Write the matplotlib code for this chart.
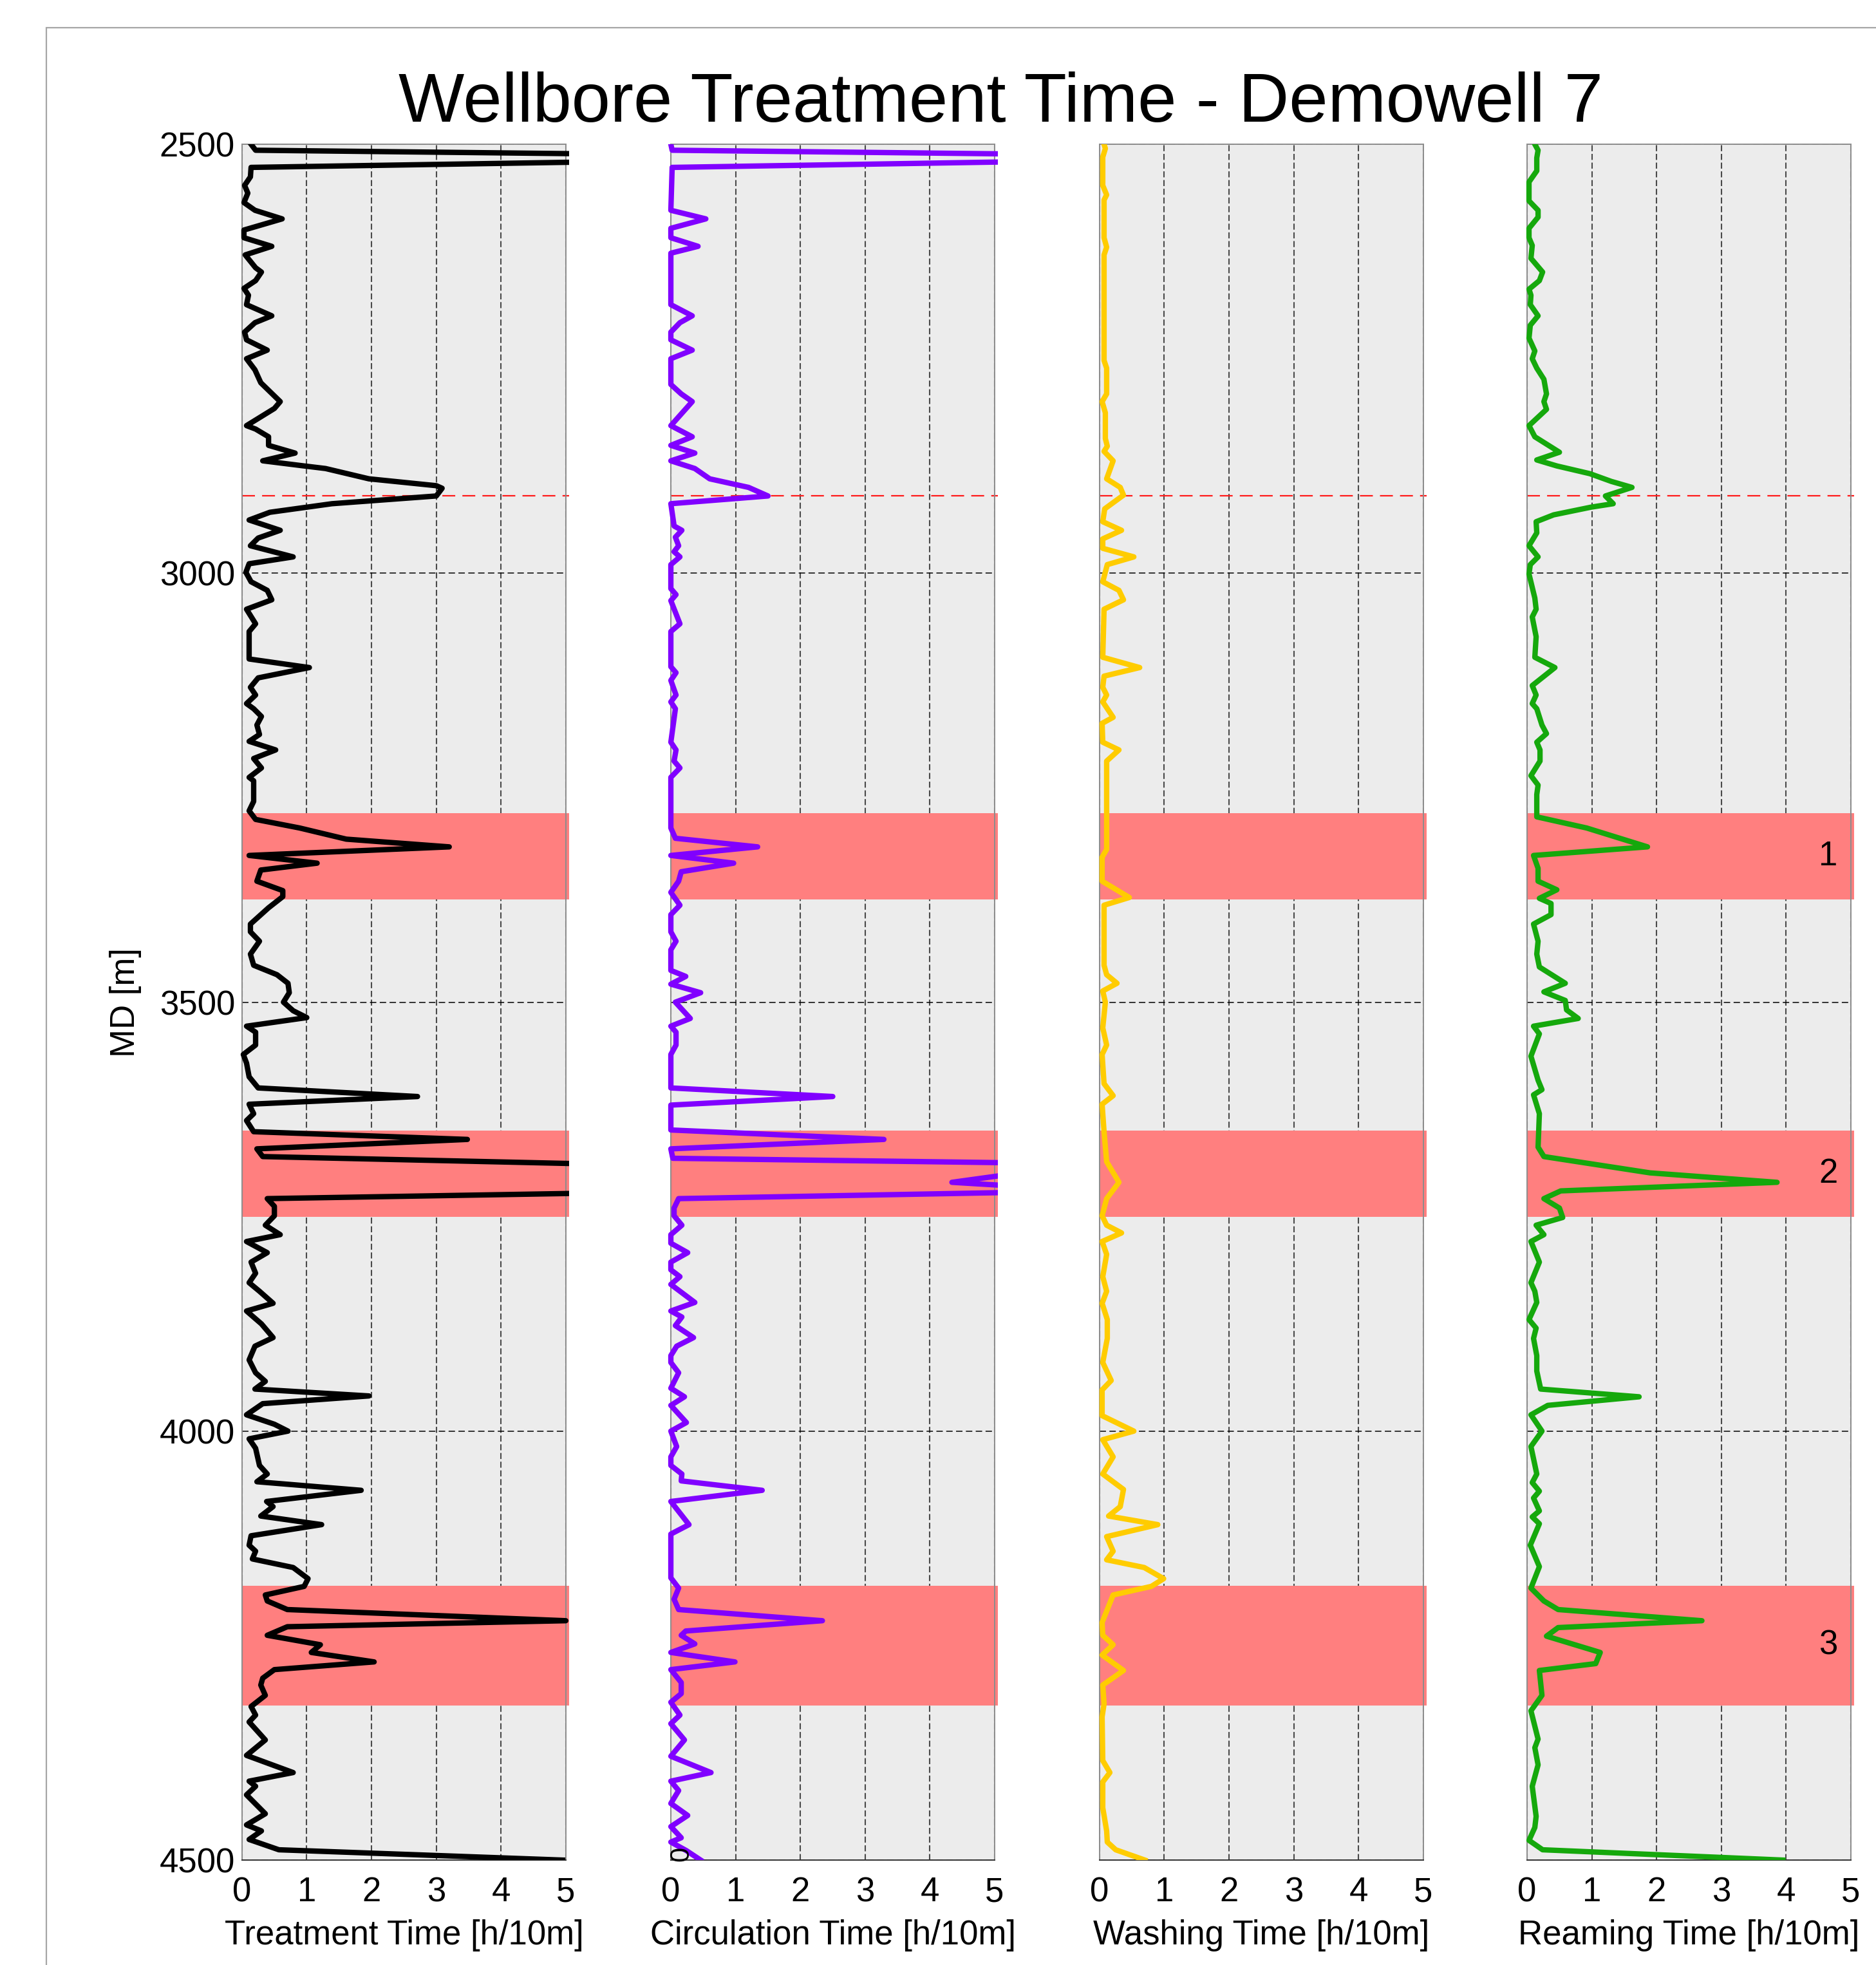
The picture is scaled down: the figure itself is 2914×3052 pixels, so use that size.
import matplotlib
matplotlib.use("Agg")
import matplotlib.pyplot as plt
from matplotlib.patches import Rectangle
from matplotlib.transforms import Bbox, TransformedBbox

# Depth samples are not evenly spaced, so every track keeps its own MD list.

treat_md = [
    2500, 2507, 2515, 2527, 2538, 2548, 2557, 2568, 2577, 2587, 2600, 2609, 2619, 2629,
    2644, 2649, 2659, 2668, 2676, 2687, 2700, 2708, 2719, 2728, 2740, 2750, 2763, 2778,
    2800, 2808, 2828, 2832, 2841, 2851, 2860, 2869, 2875, 2878, 2890, 2898, 2901, 2910,
    2919, 2929, 2938, 2950, 2959, 2968, 2981, 2989, 2999, 3010, 3020, 3031, 3042, 3059,
    3068, 3100, 3110, 3122, 3133, 3142, 3152, 3158, 3167, 3177, 3188, 3196, 3206, 3216,
    3227, 3238, 3242, 3266, 3277, 3287, 3297, 3310, 3319, 3329, 3338, 3346, 3359, 3370,
    3377, 3390, 3409, 3418, 3429, 3444, 3457, 3468, 3478, 3489, 3500, 3510, 3518, 3528,
    3535, 3550, 3561, 3571, 3587, 3600, 3610, 3619, 3630, 3638, 3651, 3660, 3671, 3680,
    3690, 3700, 3710, 3720, 3729, 3738, 3749, 3760, 3771, 3779, 3792, 3803, 3816, 3827,
    3837, 3851, 3860, 3875, 3891, 3901, 3917, 3932, 3942, 3951, 3959, 3968, 3981, 3992,
    4000, 4009, 4020, 4040, 4050, 4059, 4069, 4082, 4088, 4099, 4109, 4122, 4133, 4140,
    4149, 4159, 4172, 4181, 4191, 4198, 4208, 4221, 4228, 4238, 4249, 4258, 4269, 4278,
    4288, 4296, 4308, 4321, 4331, 4339, 4360, 4378, 4398, 4408, 4414, 4424, 4446, 4459,
    4466, 4476, 4488, 4500,
]
treat_h = [
    0.14, 0.21, 10.0, 0.14, 0.13, 0.04, 0.09, 0.03, 0.20, 0.62, 0.03, 0.03, 0.46, 0.05,
    0.21, 0.30, 0.21, 0.03, 0.10, 0.07, 0.46, 0.20, 0.04, 0.07, 0.39, 0.07, 0.20, 0.29,
    0.59, 0.50, 0.07, 0.21, 0.41, 0.41, 0.82, 0.32, 0.96, 1.29, 1.96, 3.00, 3.09, 3.00,
    1.39, 0.43, 0.11, 0.59, 0.25, 0.13, 0.79, 0.11, 0.06, 0.14, 0.39, 0.46, 0.07, 0.21,
    0.11, 0.11, 1.04, 0.25, 0.13, 0.21, 0.07, 0.18, 0.30, 0.23, 0.27, 0.11, 0.52, 0.18,
    0.30, 0.11, 0.18, 0.18, 0.11, 0.21, 0.89, 1.61, 3.20, 0.11, 1.16, 0.29, 0.23, 0.63,
    0.63, 0.41, 0.13, 0.13, 0.27, 0.13, 0.18, 0.54, 0.71, 0.73, 0.64, 0.79, 1.00, 0.07,
    0.21, 0.21, 0.02, 0.07, 0.11, 0.25, 2.71, 0.11, 0.18, 0.07, 0.18, 3.48, 0.23, 0.32,
    6.20, 9.50, 8.50, 7.40, 0.39, 0.50, 0.50, 0.36, 0.59, 0.07, 0.39, 0.14, 0.21, 0.11,
    0.27, 0.48, 0.07, 0.30, 0.48, 0.20, 0.11, 0.21, 0.36, 0.20, 1.96, 0.32, 0.07, 0.50,
    0.71, 0.11, 0.21, 0.27, 0.39, 0.23, 1.84, 0.38, 0.48, 0.29, 1.23, 0.14, 0.11, 0.21,
    0.16, 0.79, 1.02, 0.96, 0.36, 0.39, 0.70, 5.00, 0.70, 0.39, 1.21, 1.07, 2.04, 0.50,
    0.32, 0.29, 0.36, 0.14, 0.21, 0.11, 0.36, 0.07, 0.79, 0.11, 0.21, 0.07, 0.36, 0.07,
    0.30, 0.11, 0.57, 4.95,
]

circ_md = [
    2500, 2507, 2515, 2527, 2577, 2587, 2598, 2609, 2619, 2627, 2687, 2700, 2708, 2719,
    2728, 2740, 2750, 2780, 2791, 2800, 2828, 2841, 2851, 2860, 2869, 2878, 2890, 2900,
    2910, 2919, 2945, 2950, 2958, 2968, 2975, 2981, 2990, 3018, 3025, 3032, 3059, 3068,
    3109, 3116, 3125, 3142, 3150, 3158, 3197, 3206, 3219, 3227, 3238, 3297, 3309, 3319,
    3329, 3338, 3348, 3359, 3372, 3387, 3398, 3418, 3429, 3439, 3463, 3470, 3479, 3489,
    3500, 3519, 3528, 3535, 3550, 3561, 3600, 3610, 3620, 3649, 3660, 3671, 3682, 3690,
    3700, 3710, 3720, 3729, 3740, 3749, 3760, 3771, 3781, 3792, 3803, 3812, 3820, 3829,
    3850, 3860, 3867, 3877, 3891, 3901, 3912, 3920, 3932, 3950, 3960, 3970, 3990, 4000,
    4018, 4030, 4040, 4050, 4058, 4069, 4082, 4109, 4120, 4171, 4183, 4196, 4208, 4221,
    4233, 4238, 4248, 4258, 4269, 4278, 4293, 4306, 4316, 4331, 4341, 4360, 4379, 4398,
    4408, 4419, 4434, 4448, 4461, 4474, 4479, 4489, 4500,
]
circ_h = [
    0.00, 0.02, 9.70, 0.02, 0.00, 0.54, 0.00, 0.00, 0.42, 0.00, 0.00, 0.33, 0.14, 0.00,
    0.00, 0.33, 0.00, 0.00, 0.16, 0.33, 0.00, 0.33, 0.00, 0.37, 0.00, 0.37, 0.60, 1.20,
    1.50, 0.00, 0.05, 0.17, 0.07, 0.12, 0.05, 0.14, 0.00, 0.00, 0.08, 0.00, 0.14, 0.00,
    0.00, 0.08, 0.00, 0.08, 0.00, 0.07, 0.00, 0.08, 0.05, 0.14, 0.00, 0.00, 0.07, 1.34,
    0.00, 0.97, 0.16, 0.12, 0.00, 0.14, 0.00, 0.00, 0.08, 0.00, 0.00, 0.23, 0.00, 0.46,
    0.07, 0.30, 0.00, 0.08, 0.08, 0.00, 0.00, 2.50, 0.00, 0.00, 3.29, 0.00, 0.03, 8.00,
    5.30, 4.34, 6.54, 0.12, 0.05, 0.05, 0.17, 0.00, 0.00, 0.26, 0.00, 0.00, 0.14, 0.00,
    0.37, 0.00, 0.17, 0.07, 0.35, 0.09, 0.00, 0.00, 0.12, 0.00, 0.21, 0.00, 0.24, 0.00,
    0.09, 0.00, 0.00, 0.17, 0.16, 1.41, 0.00, 0.28, 0.00, 0.00, 0.12, 0.05, 0.12, 2.34,
    0.23, 0.16, 0.37, 0.00, 0.99, 0.00, 0.16, 0.16, 0.00, 0.14, 0.00, 0.21, 0.00, 0.62,
    0.00, 0.12, 0.00, 0.26, 0.00, 0.16, 0.00, 0.24, 0.46,
]

wash_md = [
    2500, 2505, 2515, 2548, 2559, 2565, 2609, 2620, 2629, 2752, 2761, 2791, 2800, 2813,
    2843, 2852, 2858, 2869, 2890, 2900, 2909, 2925, 2940, 2950, 2960, 2971, 2981, 2990,
    3010, 3020, 3031, 3042, 3098, 3110, 3120, 3133, 3142, 3150, 3168, 3175, 3197, 3206,
    3219, 3322, 3331, 3359, 3378, 3387, 3457, 3468, 3478, 3487, 3500, 3530, 3550, 3561,
    3595, 3609, 3619, 3651, 3686, 3710, 3729, 3749, 3760, 3769, 3779, 3794, 3820, 3837,
    3851, 3870, 3892, 3920, 3941, 3952, 3982, 4000, 4010, 4030, 4050, 4068, 4088, 4099,
    4109, 4123, 4140, 4150, 4159, 4172, 4181, 4191, 4208, 4223, 4238, 4249, 4261, 4279,
    4296, 4318, 4333, 4384, 4398, 4409, 4439, 4466, 4479, 4488, 4500,
]
wash_h = [
    0.07, 0.09, 0.05, 0.05, 0.11, 0.07, 0.07, 0.11, 0.07, 0.07, 0.11, 0.11, 0.04, 0.09,
    0.09, 0.12, 0.07, 0.21, 0.11, 0.32, 0.37, 0.08, 0.05, 0.34, 0.05, 0.05, 0.53, 0.12,
    0.05, 0.30, 0.37, 0.07, 0.05, 0.62, 0.07, 0.05, 0.11, 0.05, 0.21, 0.04, 0.05, 0.30,
    0.11, 0.11, 0.04, 0.04, 0.46, 0.07, 0.07, 0.11, 0.27, 0.05, 0.09, 0.05, 0.11, 0.04,
    0.07, 0.21, 0.04, 0.07, 0.11, 0.30, 0.11, 0.04, 0.11, 0.34, 0.04, 0.11, 0.05, 0.11,
    0.04, 0.12, 0.12, 0.05, 0.18, 0.04, 0.04, 0.53, 0.05, 0.21, 0.05, 0.37, 0.32, 0.14,
    0.90, 0.11, 0.21, 0.11, 0.69, 0.99, 0.80, 0.21, 0.12, 0.04, 0.05, 0.21, 0.04, 0.37,
    0.05, 0.07, 0.04, 0.05, 0.16, 0.05, 0.05, 0.11, 0.12, 0.25, 0.70,
]

ream_md = [
    2500, 2507, 2516, 2531, 2544, 2566, 2577, 2585, 2598, 2609, 2618, 2633, 2649, 2659,
    2669, 2676, 2687, 2700, 2711, 2726, 2741, 2750, 2761, 2774, 2791, 2800, 2809, 2828,
    2841, 2859, 2868, 2875, 2884, 2893, 2900, 2910, 2919, 2923, 2932, 2940, 2953, 2968,
    2981, 2990, 3001, 3029, 3042, 3051, 3074, 3098, 3110, 3131, 3142, 3152, 3158, 3177,
    3187, 3197, 3206, 3219, 3236, 3247, 3258, 3284, 3297, 3319, 3329, 3344, 3359, 3369,
    3379, 3385, 3398, 3409, 3429, 3444, 3459, 3478, 3488, 3498, 3509, 3519, 3528, 3537,
    3563, 3591, 3602, 3608, 3630, 3669, 3680, 3699, 3710, 3720, 3729, 3740, 3751, 3760,
    3771, 3779, 3803, 3827, 3837, 3850, 3870, 3880, 3892, 3912, 3930, 3951, 3960, 3970,
    3981, 4000, 4018, 4050, 4060, 4070, 4078, 4093, 4100, 4108, 4133, 4158, 4183, 4198,
    4208, 4221, 4229, 4239, 4258, 4271, 4279, 4308, 4326, 4359, 4369, 4389, 4414, 4449,
    4462, 4477, 4488, 4500,
]
ream_h = [
    0.12, 0.17, 0.15, 0.15, 0.03, 0.03, 0.17, 0.17, 0.03, 0.03, 0.08, 0.06, 0.24, 0.19,
    0.03, 0.06, 0.05, 0.17, 0.05, 0.03, 0.12, 0.08, 0.15, 0.26, 0.30, 0.26, 0.30, 0.03,
    0.12, 0.50, 0.15, 0.46, 0.97, 1.30, 1.62, 1.21, 1.33, 0.99, 0.41, 0.14, 0.15, 0.03,
    0.17, 0.05, 0.03, 0.12, 0.14, 0.08, 0.14, 0.12, 0.43, 0.08, 0.14, 0.08, 0.15, 0.23,
    0.30, 0.15, 0.20, 0.20, 0.06, 0.17, 0.15, 0.15, 0.92, 1.86, 0.10, 0.17, 0.17, 0.46,
    0.19, 0.37, 0.37, 0.10, 0.17, 0.15, 0.19, 0.59, 0.26, 0.59, 0.61, 0.79, 0.10, 0.19,
    0.06, 0.17, 0.23, 0.10, 0.19, 0.17, 0.26, 1.90, 3.86, 0.52, 0.26, 0.50, 0.55, 0.14,
    0.26, 0.06, 0.19, 0.06, 0.12, 0.15, 0.03, 0.14, 0.10, 0.15, 0.15, 0.21, 1.73, 0.32,
    0.06, 0.23, 0.06, 0.15, 0.08, 0.19, 0.10, 0.19, 0.08, 0.19, 0.05, 0.19, 0.06, 0.26,
    0.48, 2.70, 0.48, 0.30, 1.13, 1.06, 0.19, 0.23, 0.06, 0.17, 0.12, 0.17, 0.08, 0.14,
    0.12, 0.03, 0.24, 3.95,
]

track_labels = ["Treatment Time [h/10m]", "Circulation Time [h/10m]",
                "Washing Time [h/10m]", "Reaming Time [h/10m]"]
track_colors = ["black", "#8000ff", "#ffcc00", "#15a80c"]

# flagged intervals (top, base) and their numbers
zone_top = [3280, 3650, 4180]
zone_base = [3380, 3750, 4320]
zone_names = ["1", "2", "3"]

marker_md = 2910          # red dashed reference depth
md_ticks = [2500, 3000, 3500, 4000, 4500]
time_ticks = [0, 1, 2, 3, 4, 5]

plt.rcParams["font.family"] = ["Liberation Sans", "DejaVu Sans"]

fig = plt.figure(figsize=(2914 / 200, 3052 / 200), dpi=200)

# thin grey frame left over from the original export
fig.add_artist(Rectangle((0.0247, -1.0), 5.0, 1.9859, transform=fig.transFigure,
                         fill=False, edgecolor="#a6a6a6", linewidth=0.8))

lefts = [0.1290, 0.3576, 0.5861, 0.8140]
width, bottom, height = 0.1726, 0.0534, 0.8732

series = [(treat_md, treat_h), (circ_md, circ_h), (wash_md, wash_h), (ream_md, ream_h)]

for i, (md, hours) in enumerate(series):
    ax = fig.add_axes([lefts[i], bottom, width, height])
    ax.set_facecolor("#ececec")
    ax.set_axisbelow(True)

    line, = ax.plot(hours, md, color=track_colors[i], linewidth=3.0, zorder=3)
    # let the curve run a touch past the spines, as in the source plot
    line.set_clip_box(TransformedBbox(Bbox([[-0.015, 0.0], [1.01, 1.0]]), ax.transAxes))

    for top, base in zip(zone_top, zone_base):
        ax.axhspan(top, base, xmin=0, xmax=1.01, color="#ff7f7f", linewidth=0,
                   zorder=1, clip_on=False)
    if i == 3:
        for top, base, name in zip(zone_top, zone_base, zone_names):
            ax.text(4.65, (top + base) / 2, name, fontsize=19, ha="center",
                    va="center", zorder=4)

    ax.axhline(marker_md, xmin=0, xmax=1.01, color="#ff1a1a", linewidth=0.8,
               linestyle=(0, (9, 5)), clip_on=False, zorder=2)

    ax.set_xlim(0, 5)
    ax.set_ylim(4500, 2500)
    ax.set_xticks(time_ticks)
    ax.set_yticks(md_ticks)
    ax.xaxis.grid(True, color="#4a4a4a", linestyle=(0, (4.5, 2)), linewidth=0.75)
    ax.yaxis.grid(True, color="black", linestyle=(0, (6.5, 3.5)), linewidth=0.55)

    ax.tick_params(axis="both", length=0, labelsize=19)
    ax.tick_params(axis="x", pad=9)
    ax.tick_params(axis="y", pad=4)
    ax.set_xlabel(track_labels[i], fontsize=19, labelpad=6)

    for side in ["top", "left", "right"]:
        ax.spines[side].set_color("#8c8c8c")
        ax.spines[side].set_linewidth(0.7)
    ax.spines["bottom"].set_color("#333333")
    ax.spines["bottom"].set_linewidth(0.7)

    if i == 0:
        ax.set_ylabel("MD [m]", fontsize=19, labelpad=10)
    else:
        ax.tick_params(axis="y", labelleft=False)
    if i == 1:
        ax.text(0.16, 4493, "0", fontsize=15, rotation=90, ha="center", va="center",
                zorder=4)

fig.text(0.5334, 0.938, "Wellbore Treatment Time - Demowell 7", fontsize=39,
         ha="center", va="baseline")

fig.savefig("out.png", dpi=200)
